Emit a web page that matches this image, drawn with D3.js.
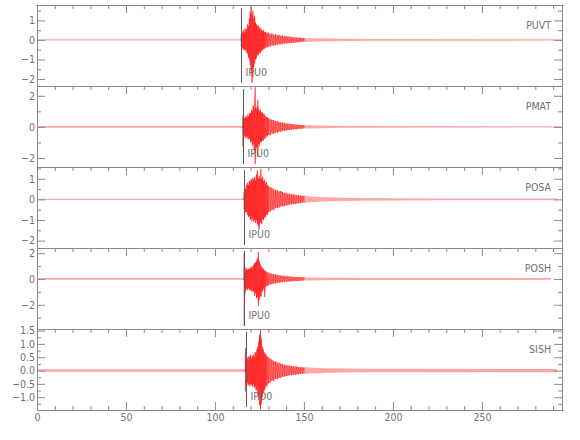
<!DOCTYPE html>
<html>
<head>
<meta charset="utf-8">
<script src="https://cdn.jsdelivr.net/npm/d3@7"></script>
<style>
  html, body { margin: 0; padding: 0; background: #fff; }
  svg { display: block; }
</style>
</head>
<body>
<svg id="chart" width="580" height="440"></svg>
<script>
// === Seismogram stack, five stations ===

// --- Data ---
const stations = ["PUVT", "PMAT", "POSA", "POSH", "SISH"];
const phaseLabels = ["IPU0", "IPU0", "IPU0", "IPU0", "IPD0"];
const picks = [114.8, 115.7, 116.4, 116.4, 117.2];   // seconds
const yDomains = [[-2.36, 1.79], [-2.58, 2.63], [-2.36, 1.57], [-3.88, 2.4], [-1.48, 1.56]];
const yMajor = [[1, 0, -1, -2], [2, 0, -2], [1, 0, -1, -2], [2, 0, -2], [1.5, 1.0, 0.5, 0.0, -0.5, -1.0]];
const yMinor = [
  [1.5, 0.5, -0.5, -1.5],
  [1, -1],
  [1.5, 0.5, -0.5, -1.5],
  [1, -1, -3],
  [1.25, 0.75, 0.25, -0.25, -0.75, -1.25]
];
const yFormats = ["d", "d", "d", "d", ".1f"];
const xMajor = [0, 50, 100, 150, 200, 250];
const xMinor = [10, 20, 30, 40, 60, 70, 80, 90, 110, 120, 130, 140, 160, 170, 180, 190, 210, 220, 230, 240, 260, 270, 280, 290];
const X_MAX = 295;

// amplitude envelope per station: [time, upper peak, lower peak]
const puvt = [
  [0, 0.03, -0.03], [114.6, 0.03, -0.03],
  [114.8, 0.3, -0.35], [115.3, 0.45, -0.4], [115.8, 0.35, -0.5], [116.3, 0.55, -0.45],
  [116.8, 0.4, -0.55], [117.3, 0.6, -0.5], [117.8, 0.5, -0.65], [118.3, 0.8, -0.7],
  [118.8, 0.7, -0.9], [119.3, 1.1, -1.0], [119.8, 1.45, -1.3], [120.3, 1.72, -1.6],
  [120.8, 1.3, -2.2], [121.3, 1.5, -1.9], [121.8, 1.1, -1.4], [122.3, 1.25, -1.2],
  [122.8, 0.9, -1.0], [123.3, 0.8, -0.95], [123.8, 0.7, -0.75], [124.3, 0.75, -0.8],
  [124.8, 0.6, -0.65], [125.3, 0.65, -0.7], [125.8, 0.5, -0.6], [126.3, 0.55, -0.55],
  [126.8, 0.45, -0.5], [127.3, 0.5, -0.45], [127.8, 0.4, -0.45], [128.5, 0.42, -0.38],
  [129.2, 0.35, -0.4], [130, 0.38, -0.33], [131, 0.3, -0.34], [132, 0.33, -0.28],
  [133, 0.27, -0.3], [134, 0.29, -0.25], [135, 0.24, -0.26], [136, 0.26, -0.22],
  [137, 0.21, -0.23], [138, 0.22, -0.19], [139, 0.18, -0.2], [140, 0.2, -0.17],
  [141, 0.16, -0.18], [142, 0.17, -0.15], [143, 0.14, -0.16], [144, 0.15, -0.13],
  [145, 0.13, -0.14], [146, 0.13, -0.12], [147, 0.11, -0.12], [148, 0.12, -0.1],
  [149, 0.1, -0.11], [150, 0.1, -0.09], [153, 0.09, -0.09], [158, 0.085, -0.085],
  [165, 0.07, -0.07], [175, 0.055, -0.055], [190, 0.045, -0.045], [294.6, 0.035, -0.035]
];
const pmat = [
  [0, 0.05, -0.05], [115.5, 0.05, -0.05],
  [115.7, 0.75, -1.3], [116.0, 0.5, -0.6], [116.5, 0.6, -0.55], [117.0, 0.55, -0.7],
  [117.5, 0.7, -0.6], [118.0, 0.6, -0.75], [118.5, 0.8, -0.65], [119.0, 0.7, -0.8],
  [119.5, 0.9, -0.75], [120.0, 0.85, -1.0], [120.5, 1.1, -0.9], [121.0, 1.0, -1.2],
  [121.5, 1.4, -1.1], [122.0, 1.2, -1.5], [122.6, 2.55, -2.4], [123.1, 1.3, -1.4],
  [123.6, 1.1, -1.3], [124.1, 1.75, -1.95], [124.6, 1.2, -1.1], [125.1, 1.0, -1.2],
  [125.6, 1.1, -0.95], [126.1, 0.9, -1.0], [126.6, 0.95, -0.85], [127.1, 0.8, -0.9],
  [127.6, 0.85, -0.75], [128.2, 0.7, -0.75], [128.8, 0.65, -0.6], [129.5, 0.6, -0.62],
  [130, 0.55, -0.5], [131, 0.5, -0.54], [132, 0.46, -0.42], [133, 0.43, -0.45],
  [134, 0.38, -0.36], [135, 0.36, -0.38], [136, 0.32, -0.3], [137, 0.3, -0.32],
  [138, 0.27, -0.26], [139, 0.26, -0.25], [140, 0.22, -0.24], [141, 0.22, -0.2],
  [142, 0.19, -0.2], [143, 0.19, -0.17], [144, 0.16, -0.17], [145, 0.16, -0.14],
  [146, 0.14, -0.15], [147, 0.14, -0.12], [148, 0.12, -0.13], [149, 0.12, -0.11],
  [150, 0.11, -0.11], [153, 0.1, -0.1], [158, 0.09, -0.09], [165, 0.07, -0.07],
  [175, 0.06, -0.06], [190, 0.05, -0.05], [294.6, 0.045, -0.045]
];
const posa = [
  [0, 0.035, -0.035], [116.2, 0.035, -0.035],
  [116.4, 0.35, -0.5], [116.8, 0.6, -0.55], [117.3, 0.5, -0.65], [117.8, 0.7, -0.6],
  [118.3, 0.8, -0.75], [118.8, 0.7, -0.85], [119.3, 0.9, -0.8], [119.8, 0.85, -1.0],
  [120.3, 1.0, -0.9], [120.8, 0.9, -1.05], [121.3, 1.05, -0.95], [121.8, 0.95, -1.1],
  [122.3, 1.1, -1.0], [122.8, 0.9, -1.15], [123.3, 1.2, -1.0], [123.8, 1.4, -1.2],
  [124.3, 1.0, -1.3], [124.8, 1.15, -1.47], [125.3, 1.0, -1.15], [125.8, 1.49, -1.1],
  [126.3, 1.0, -1.2], [126.8, 1.1, -0.95], [127.3, 0.9, -1.0], [127.8, 0.95, -0.85],
  [128.3, 0.8, -0.9], [128.8, 0.85, -0.75], [129.5, 0.7, -0.75], [130, 0.65, -0.62],
  [131, 0.6, -0.6], [132, 0.55, -0.5], [133, 0.5, -0.52], [134, 0.45, -0.42],
  [135, 0.44, -0.42], [136, 0.38, -0.4], [137, 0.4, -0.35], [138, 0.36, -0.33],
  [139, 0.31, -0.34], [140, 0.32, -0.28], [141, 0.27, -0.29], [142, 0.28, -0.25],
  [143, 0.24, -0.25], [144, 0.25, -0.22], [145, 0.22, -0.23], [146, 0.2, -0.2],
  [147, 0.21, -0.18], [148, 0.18, -0.19], [149, 0.18, -0.16], [150, 0.17, -0.16],
  [154, 0.14, -0.14], [158, 0.12, -0.12], [164, 0.1, -0.1], [172, 0.08, -0.08],
  [182, 0.07, -0.07], [200, 0.055, -0.055], [225, 0.045, -0.045], [292.2, 0.04, -0.04]
];
const posh = [
  [0, 0.07, -0.07], [116.2, 0.07, -0.07],
  [116.4, 2.0, -3.6], [116.8, 0.9, -1.2], [117.3, 0.7, -0.9], [117.8, 0.85, -0.75],
  [118.3, 0.7, -0.85], [118.8, 0.8, -0.7], [119.3, 0.75, -0.85], [119.8, 0.9, -0.8],
  [120.3, 0.8, -0.95], [120.8, 1.0, -0.85], [121.3, 0.9, -1.0], [121.8, 1.1, -0.95],
  [122.3, 1.2, -1.3], [122.8, 1.3, -1.1], [123.3, 1.4, -1.5], [123.8, 1.6, -1.4],
  [124.4, 2.1, -2.1], [124.9, 1.4, -1.6], [125.4, 1.2, -1.3], [125.9, 1.0, -1.4],
  [126.4, 0.9, -1.0], [126.9, 0.8, -0.9], [127.4, 0.75, -0.75], [127.9, 0.65, -1.4],
  [128.5, 0.6, -0.6], [129.2, 0.55, -0.52], [130, 0.48, -0.5], [131, 0.45, -0.42],
  [132, 0.4, -0.42], [133, 0.37, -0.34], [134, 0.33, -0.35], [135, 0.32, -0.29],
  [136, 0.28, -0.3], [137, 0.27, -0.25], [138, 0.24, -0.26], [139, 0.24, -0.22],
  [140, 0.21, -0.22], [141, 0.21, -0.19], [142, 0.19, -0.2], [143, 0.18, -0.17],
  [144, 0.17, -0.18], [145, 0.16, -0.15], [146, 0.16, -0.16], [147, 0.14, -0.15],
  [148, 0.15, -0.13], [149, 0.13, -0.14], [150, 0.13, -0.12], [154, 0.12, -0.12],
  [160, 0.1, -0.1], [170, 0.09, -0.09], [185, 0.08, -0.08], [288.8, 0.07, -0.07]
];
const sish = [
  [0, 0.045, -0.045], [117.0, 0.045, -0.045],
  [117.2, 0.84, -0.79], [117.6, 0.45, -0.5], [118.1, 0.5, -0.45], [118.6, 0.4, -0.55],
  [119.1, 0.55, -0.5], [119.6, 0.5, -0.6], [120.1, 0.6, -0.5], [120.6, 0.45, -0.55],
  [121.1, 0.55, -0.6], [121.6, 0.6, -0.5], [122.1, 0.5, -0.65], [122.6, 0.7, -0.6],
  [123.1, 0.65, -0.75], [123.6, 0.8, -0.7], [124.1, 0.9, -0.9], [124.6, 1.1, -1.1],
  [125.1, 1.35, -1.3], [125.6, 1.52, -1.46], [126.1, 1.2, -1.25], [126.6, 0.9, -1.0],
  [127.1, 0.8, -0.85], [127.6, 0.7, -0.75], [128.1, 0.65, -0.7], [128.6, 0.6, -0.55],
  [129.2, 0.55, -0.6], [130, 0.5, -0.48], [131, 0.45, -0.46], [132, 0.41, -0.38],
  [133, 0.36, -0.38], [134, 0.34, -0.31], [135, 0.3, -0.32], [136, 0.29, -0.27],
  [137, 0.26, -0.27], [138, 0.24, -0.23], [139, 0.22, -0.23], [140, 0.21, -0.2],
  [141, 0.19, -0.2], [142, 0.19, -0.17], [143, 0.17, -0.18], [144, 0.16, -0.15],
  [145, 0.15, -0.16], [146, 0.15, -0.14], [147, 0.13, -0.14], [148, 0.13, -0.12],
  [149, 0.12, -0.13], [150, 0.12, -0.12], [155, 0.11, -0.11], [162, 0.09, -0.09],
  [172, 0.075, -0.075], [185, 0.065, -0.065], [292.2, 0.06, -0.06]
];
const traces = [puvt, pmat, posa, posh, sish];

// --- Layout ---
const LEFT = 37, RIGHT = 562, TOP = 5, PANEL_H = 81;
const FONT = "'Liberation Sans Narrow', 'DejaVu Sans Condensed', 'Liberation Sans', sans-serif";
const FONT_SIZE = 10.5;
const AXIS_COLOR = "#8a8a8a";
const TEXT_COLOR = "#707070";
const TRACE_COLOR = "#ff0000";
const MAX_GAP = 1.1; // seconds; wider gaps are left to the envelope fill

const svg = d3.select("#chart");
const x = d3.scaleLinear().domain([0, X_MAX]).range([LEFT, RIGHT]);

function styleAxis(g) {
  g.select(".domain").remove();
  g.selectAll(".tick line").attr("stroke", AXIS_COLOR);
  g.selectAll(".tick text")
    .attr("fill", TEXT_COLOR)
    .attr("font-family", FONT)
    .attr("font-stretch", "condensed")
    .attr("font-size", FONT_SIZE);
}

function addText(g, px, py, anchor, str) {
  g.append("text")
    .attr("x", px).attr("y", py)
    .attr("text-anchor", anchor)
    .attr("fill", TEXT_COLOR)
    .attr("font-family", FONT)
    .attr("font-stretch", "condensed")
    .attr("font-size", FONT_SIZE)
    .text(str);
}

// split the envelope into runs of closely spaced samples
function runs(data) {
  const out = [];
  let cur = [data[0]];
  for (let k = 1; k < data.length; k++) {
    if (data[k][0] - data[k - 1][0] <= MAX_GAP) cur.push(data[k]);
    else { out.push(cur); cur = [data[k]]; }
  }
  out.push(cur);
  return out.filter(r => r.length > 1);
}

stations.forEach((name, i) => {
  const top = TOP + i * PANEL_H;
  const bottom = top + PANEL_H;
  const y = d3.scaleLinear().domain(yDomains[i]).range([bottom, top]);
  const panel = svg.append("g").attr("class", "panel");

  // clip traces to the panel box
  const clipId = "clip" + i;
  svg.append("clipPath").attr("id", clipId)
    .append("rect").attr("x", LEFT).attr("y", top).attr("width", RIGHT - LEFT).attr("height", PANEL_H);

  const data = traces[i];
  const traceG = panel.append("g").attr("clip-path", `url(#${clipId})`);

  // envelope fill
  traceG.append("path")
    .datum(data)
    .attr("d", d3.area().x(d => x(d[0])).y0(d => y(d[2])).y1(d => y(d[1])))
    .attr("fill", TRACE_COLOR)
    .attr("fill-opacity", 0.35);

  // peak-to-peak swings
  const swingLine = d3.line().x(d => x(d[0])).y(d => y(d[1]));
  traceG.selectAll("path.swing")
    .data(runs(data).map(r => r.flatMap(d => [[d[0], d[1]], [d[0], d[2]]])))
    .join("path")
    .attr("class", "swing")
    .attr("d", swingLine)
    .attr("fill", "none")
    .attr("stroke", TRACE_COLOR)
    .attr("stroke-width", 0.6)
    .attr("stroke-opacity", 0.8);

  // phase pick
  const px = Math.round(x(picks[i])) + 0.5;
  panel.append("line")
    .attr("x1", px).attr("x2", px)
    .attr("y1", top + 3).attr("y2", bottom - 3)
    .attr("stroke", "#5a5a5a")
    .attr("stroke-width", 1);
  addText(panel, px + 4, top + 71, "start", phaseLabels[i]);

  // station name
  addText(panel, 551, top + 24, "end", name);

  // frame
  panel.append("rect")
    .attr("x", LEFT + 0.5).attr("y", top + 0.5)
    .attr("width", RIGHT - LEFT).attr("height", PANEL_H)
    .attr("fill", "none")
    .attr("stroke", AXIS_COLOR);

  // left axis
  panel.append("g").attr("transform", `translate(${LEFT},0)`)
    .call(d3.axisLeft(y).tickValues(yMajor[i]).tickSize(-8).tickPadding(2).tickFormat(d3.format(yFormats[i])))
    .call(styleAxis);
  panel.append("g").attr("transform", `translate(${LEFT},0)`)
    .call(d3.axisLeft(y).tickValues(yMinor[i]).tickSize(-4).tickFormat(""))
    .call(styleAxis);

  // right axis
  panel.append("g").attr("transform", `translate(${RIGHT},0)`)
    .call(d3.axisRight(y).tickValues(yMajor[i]).tickSize(-8).tickFormat(""))
    .call(styleAxis);
  panel.append("g").attr("transform", `translate(${RIGHT},0)`)
    .call(d3.axisRight(y).tickValues(yMinor[i]).tickSize(-4).tickFormat(""))
    .call(styleAxis);

  // top ticks of every panel
  panel.append("g").attr("transform", `translate(0,${top})`)
    .call(d3.axisTop(x).tickValues(xMajor).tickSize(-8).tickFormat(""))
    .call(styleAxis);
  panel.append("g").attr("transform", `translate(0,${top})`)
    .call(d3.axisTop(x).tickValues(xMinor).tickSize(-4).tickFormat(""))
    .call(styleAxis);

  // bottom axis with labels on the last panel only
  if (i === stations.length - 1) {
    panel.append("g").attr("transform", `translate(0,${bottom})`)
      .call(d3.axisBottom(x).tickValues(xMajor).tickSize(-8).tickPadding(4).tickFormat(d3.format("d")))
      .call(styleAxis);
    panel.append("g").attr("transform", `translate(0,${bottom})`)
      .call(d3.axisBottom(x).tickValues(xMinor).tickSize(-4).tickFormat(""))
      .call(styleAxis);
  }
});
</script>
</body>
</html>
